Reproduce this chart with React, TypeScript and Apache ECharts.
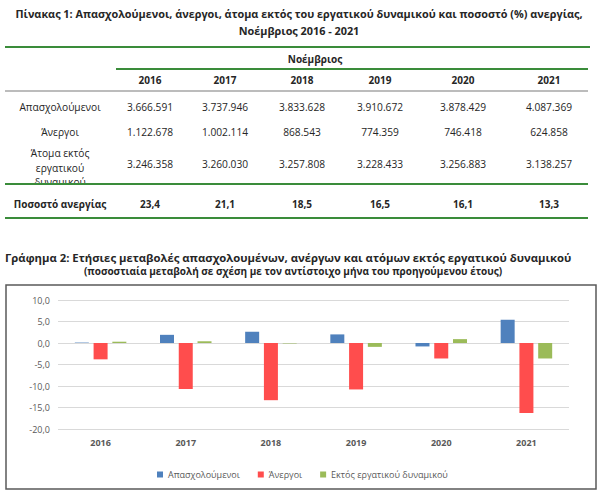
import React, { useEffect, useRef } from "react";
import * as echarts from "echarts";

const years = ["2016", "2017", "2018", "2019", "2020", "2021"];
const employed = [3666591, 3737946, 3833628, 3910672, 3878429, 4087369];
const unemployed = [1122678, 1002114, 868543, 774359, 746418, 624858];
const inactive = [3246358, 3260030, 3257808, 3228433, 3256883, 3138257];
const unemploymentRate = [23.4, 21.1, 18.5, 16.5, 16.1, 13.3];

const employedChange = [0.1, 1.9, 2.6, 2.0, -0.8, 5.4];
const unemployedChange = [-3.8, -10.7, -13.3, -10.8, -3.6, -16.3];
const inactiveChange = [0.3, 0.4, -0.1, -0.9, 0.9, -3.6];

const seriesNames = ["Απασχολούμενοι", "Άνεργοι", "Εκτός εργατικού δυναμικού"];
const yTicks = { min: -20, max: 10, interval: 5 };

const FONT = "Open Sans";
const TXT = "#262626";
const GREEN = "#3A8C3A";

const fmtInt = (n: number) => String(n).replace(/\B(?=(\d{3})+(?!\d))/g, ".");
const fmtDec = (n: number) => n.toFixed(1).replace(".", ",");

const colX = [150, 225, 302, 380, 463, 549];
const labelX = 60;

function txt(text: string, x: number, y: number, size: number, bold = false, align = "center", fill = TXT) {
  return {
    type: "text",
    x,
    y,
    z: 10,
    style: {
      text,
      fill,
      align,
      verticalAlign: "middle",
      font: `${bold ? "bold " : ""}${size}px "${FONT}"`,
    },
  };
}

function hline(x1: number, x2: number, y: number, color: string, w: number) {
  return {
    type: "line",
    z: 12,
    shape: { x1, y1: y, x2, y2: y },
    style: { stroke: color, lineWidth: w },
  };
}

export default function App() {
  const ref = useRef<HTMLDivElement>(null);
  useEffect(() => {
    if (!ref.current) return;
    const chart = echarts.init(ref.current, undefined, { renderer: "svg" });

    const graphics: any[] = [];
    graphics.push(
      txt("Πίνακας 1: Απασχολούμενοι, άνεργοι, άτομα εκτός του εργατικού δυναμικού και ποσοστό (%) ανεργίας,", 299, 13, 10.85, true)
    );
    graphics.push(txt("Νοέμβριος 2016 - 2021", 299, 30, 10.85, true));
    graphics.push(hline(5, 590, 47, GREEN, 2));
    graphics.push(txt("Νοέμβριος", 315, 59, 10, true));
    graphics.push(hline(116, 588, 69, GREEN, 2));
    years.forEach((y, i) => graphics.push(txt(y, colX[i], 80, 10, true)));
    graphics.push(hline(5, 588, 91, "#A6A6A6", 1.5));
    graphics.push(txt("Απασχολούμενοι", labelX, 107, 10.2));
    graphics.push(txt("Άνεργοι", labelX, 132, 10.2));
    graphics.push(txt("Άτομα εκτός", labelX, 153, 10.2));
    graphics.push(txt("εργατικού", labelX, 168, 10.2));
    graphics.push(txt("δυναμικού", labelX, 182, 10.2));
    graphics.push({ type: "rect", z: 11, shape: { x: 0, y: 184, width: 120, height: 8 }, style: { fill: "#fff" } });
    employed.forEach((v, i) => graphics.push(txt(fmtInt(v), colX[i], 107, 10.2)));
    unemployed.forEach((v, i) => graphics.push(txt(fmtInt(v), colX[i], 132, 10.2)));
    inactive.forEach((v, i) => graphics.push(txt(fmtInt(v), colX[i], 164, 10.2)));
    graphics.push(hline(5, 588, 184, GREEN, 2));
    graphics.push(txt("Ποσοστό ανεργίας", labelX, 204, 10, true));
    unemploymentRate.forEach((v, i) => graphics.push(txt(fmtDec(v), colX[i], 204, 10, true)));
    graphics.push(hline(5, 588, 218, GREEN, 2));

    graphics.push(
      txt("Γράφημα 2: Ετήσιες μεταβολές απασχολουμένων, ανέργων και ατόμων εκτός εργατικού δυναμικού", 5, 257, 11.3, true, "left")
    );
    graphics.push(
      txt("(ποσοστιαία μεταβολή σε σχέση με τον αντίστοιχο μήνα του προηγούμενου έτους)", 293, 271, 10, true)
    );
    graphics.push({
      type: "rect",
      z: 0,
      shape: { x: 6, y: 285, width: 590, height: 204 },
      style: { fill: "none", stroke: "#5a5a5a", lineWidth: 1.5 },
    });

    const mkSeries = (name: string, data: number[], color: string) => ({
      name,
      type: "bar",
      data,
      barWidth: 14,
      barGap: "34%",
      itemStyle: { color },
    });

    chart.setOption({
      animation: false,
      graphic: graphics,
      grid: { left: 58, right: 30, top: 300, bottom: 72 },
      legend: {
        data: seriesNames,
        left: 152,
        top: 465,
        icon: "rect",
        itemWidth: 6,
        itemHeight: 6,
        itemGap: 18,
        textStyle: { color: "#595959", fontSize: 9, fontFamily: FONT },
      },
      xAxis: {
        type: "category",
        data: years,
        axisLine: { show: false },
        axisTick: { show: false },
        axisLabel: { color: "#595959", fontSize: 9, fontWeight: "bold", fontFamily: FONT, margin: 9 },
      },
      yAxis: {
        type: "value",
        min: yTicks.min,
        max: yTicks.max,
        interval: yTicks.interval,
        axisLine: { show: false },
        axisTick: { show: false },
        splitLine: { lineStyle: { color: "#D9D9D9", width: 1 } },
        axisLabel: { color: "#595959", fontSize: 9, fontFamily: FONT, margin: 8, formatter: (v: number) => fmtDec(v) },
      },
      series: [
        mkSeries(seriesNames[0], employedChange, "#4F81BD"),
        mkSeries(seriesNames[1], unemployedChange, "#FF4D4D"),
        mkSeries(seriesNames[2], inactiveChange, "#9BBB59"),
      ],
    });
    return () => chart.dispose();
  }, []);
  return (
    <div
      ref={ref}
      style={{ position: "absolute", left: 0, top: 0, width: 599, height: 501, background: "#fff" }}
    />
  );
}
